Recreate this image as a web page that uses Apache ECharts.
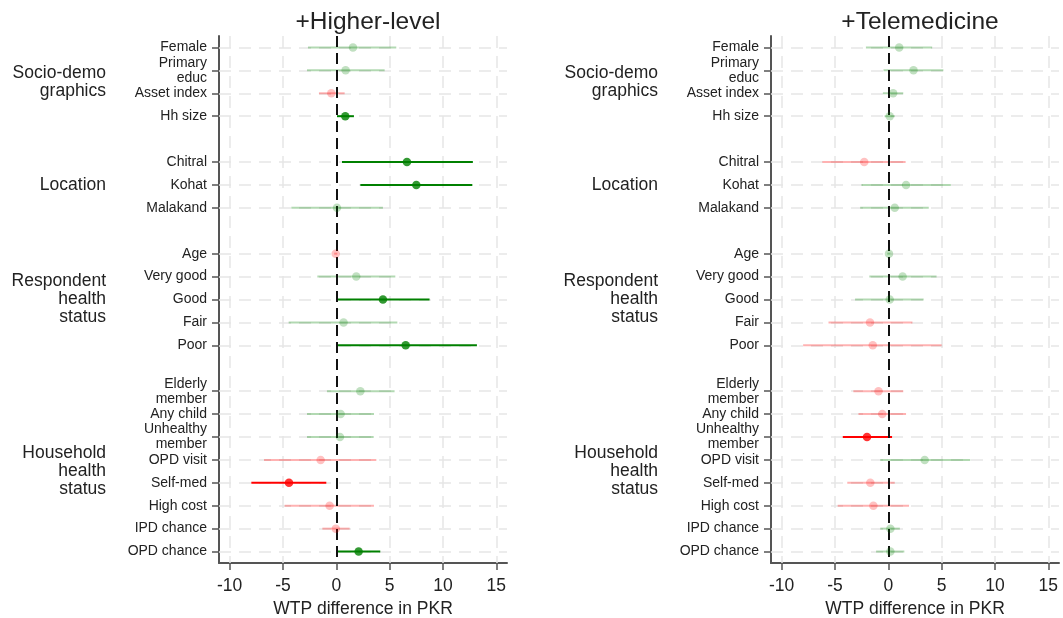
<!DOCTYPE html>
<html>
<head>
<meta charset="utf-8">
<script src="https://cdn.jsdelivr.net/npm/echarts@6/dist/echarts.min.js"></script>
<style>
html,body{margin:0;padding:0;background:#fff;}
#chart{width:1063px;height:618px;}
</style>
</head>
<body>
<div id="chart"></div>
<script>
// ---- data ----
const rows = ['Female','Primary\neduc','Asset index','Hh size','',
  'Chitral','Kohat','Malakand','',
  'Age','Very good','Good','Fair','Poor','',
  'Elderly\nmember','Any child','Unhealthy\nmember','OPD visit','Self-med','High cost','IPD chance','OPD chance'];
const groupNames = ['Socio-demo\ngraphics','Location','Respondent\nhealth\nstatus','Household\nhealth\nstatus'];
const groupSpans = [[0,3],[5,7],[9,13],[15,22]];
const xTicks = [-10,-5,0,5,10,15];
const panelTitles = ['+Higher-level','+Telemedicine'];
const xTitle = 'WTP difference in PKR';

// +Higher-level
const hlEst = [1.56,0.87,-0.47,0.84,null,6.62,7.5,0.06,null,-0.06,1.87,4.37,0.68,6.5,null,2.25,0.4,0.34,-1.47,-4.44,-0.63,-0.05,2.09];
const hlLo  = [-2.66,-2.75,-1.63,0.06,null,0.53,2.25,-4.22,null,-0.2,-1.78,0.06,-4.47,0.0,null,-0.88,-2.75,-2.75,-6.78,-7.97,-4.85,-1.31,0.06];
const hlHi  = [5.62,4.53,0.78,1.65,null,12.8,12.75,4.37,null,0.1,5.53,8.74,5.72,13.18,null,5.46,3.53,3.5,3.75,-0.94,3.53,1.25,4.12];
const hlSig = [0,0,0,1,null,1,1,0,null,0,0,1,0,1,null,0,0,0,0,1,0,0,1];

// +Telemedicine
const tmEst = [1.02,2.36,0.45,0.13,null,-2.26,1.66,0.6,null,0.06,1.34,0.13,-1.72,-1.46,null,-0.92,-0.57,-2.0,3.41,-1.69,-1.4,0.19,0.19];
const tmLo  = [-2.1,-0.45,-0.51,-0.35,null,-6.18,-2.52,-2.64,null,-0.1,-1.78,-3.12,-5.61,-7.99,null,-3.28,-2.8,-4.27,-0.76,-3.85,-4.75,-0.76,-1.15];
const tmHi  = [4.11,5.16,1.4,0.6,null,1.62,5.86,3.79,null,0.2,4.52,3.31,2.26,5.0,null,1.4,1.66,0.35,7.68,0.6,1.94,1.08,1.5];
const tmSig = [0,0,0,0,null,0,0,0,null,0,0,0,0,0,null,0,0,1,0,0,0,0,0];

// ---- styling ----
const FONT = "'Liberation Sans', Arial, sans-serif";
const TXT = '#222';
const AX = '#555';
const GRIDC = '#e6e6e6';
const keys = rows.map((r, i) => 'k' + i);

function colorFor(est, sig) {
  if (est >= 0) return sig ? '#008000' : 'rgba(0,128,0,0.3)';
  return sig ? '#ff0000' : 'rgba(255,0,0,0.3)';
}

const panels = [
  {est: hlEst, lo: hlLo, hi: hlHi, sig: hlSig, left: 219},
  {est: tmEst, lo: tmLo, hi: tmHi, sig: tmSig, left: 771}
];
const PW = 288, PT = 36, PH = 527;

const option = {
  animation: false,
  textStyle: {fontFamily: FONT},
  title: panels.map((p, i) => ({
    text: panelTitles[i],
    left: p.left + PW / 2,
    top: 5,
    textAlign: 'center',
    textStyle: {fontSize: 24.5, fontWeight: 'normal', color: TXT, fontFamily: FONT}
  })),
  grid: panels.map(p => ({left: p.left, top: PT, width: PW, height: PH,
    containLabel: false, outerBoundsMode: 'none'})),
  xAxis: panels.map((p, i) => ({
    gridIndex: i, type: 'value', min: -11, max: 16,
    axisLine: {show: true, lineStyle: {color: AX, width: 2}},
    axisTick: {show: true, customValues: xTicks, length: 7, lineStyle: {color: AX, width: 1.5}},
    axisLabel: {customValues: xTicks, fontSize: 17.5, color: TXT, margin: 14, fontFamily: FONT},
    splitLine: {show: false},
    name: xTitle, nameLocation: 'middle', nameGap: 34,
    nameTextStyle: {fontSize: 17.5, color: TXT, fontFamily: FONT}
  })),
  yAxis: panels.map((p, i) => ({
    gridIndex: i, type: 'category', data: keys, inverse: true, boundaryGap: true,
    axisLine: {show: true, onZero: false, lineStyle: {color: AX, width: 2}},
    axisTick: {show: true, alignWithLabel: true, length: 7,
      interval: (idx) => rows[idx] !== '', lineStyle: {color: AX, width: 1.5}},
    axisLabel: {interval: 0, formatter: (v, idx) => rows[idx], fontSize: 14, lineHeight: 15,
      color: TXT, margin: 12, fontFamily: FONT, align: 'right', padding: [3, 0, 0, 0]},
    splitLine: {show: false}
  })),
  series: []
};

panels.forEach((p, i) => {
  const ciData = [], ptData = [];
  rows.forEach((r, k) => {
    if (p.est[k] === null) return;
    const c = colorFor(p.est[k], p.sig[k]);
    ciData.push({value: [p.est[k], k, p.lo[k], p.hi[k]], itemStyle: {color: c}});
    ptData.push({value: [p.est[k], k], itemStyle: {color: c}});
  });
  // gridlines
  option.series.push({
    type: 'scatter', xAxisIndex: i, yAxisIndex: i, data: [], z: 1, silent: true,
    markLine: {
      z: 1, silent: true, symbol: 'none', label: {show: false}, animation: false,
      lineStyle: {color: GRIDC, width: 1.5, type: [12, 8]},
      emphasis: {disabled: true},
      data: xTicks.filter(v => v !== 0).map(v => ({xAxis: v}))
        .concat(rows.map((r, k) => r ? {yAxis: keys[k]} : null).filter(Boolean))
    }
  });
  // confidence intervals
  option.series.push({
    type: 'custom', xAxisIndex: i, yAxisIndex: i, z: 2, silent: true,
    encode: {x: 0, y: 1},
    data: ciData,
    renderItem: (params, api) => {
      const y = api.value(1);
      const a = api.coord([api.value(2), y]);
      const b = api.coord([api.value(3), y]);
      return {type: 'line', shape: {x1: a[0], y1: a[1], x2: b[0], y2: b[1]},
        style: {stroke: api.visual('color'), lineWidth: 2}};
    }
  });
  // zero line
  option.series.push({
    type: 'scatter', xAxisIndex: i, yAxisIndex: i, data: [], z: 3, silent: true,
    markLine: {
      z: 3, silent: true, symbol: 'none', label: {show: false}, animation: false,
      lineStyle: {color: '#111', width: 2, type: [11, 6]},
      emphasis: {disabled: true},
      data: [{xAxis: 0}]
    }
  });
  // points
  option.series.push({
    type: 'scatter', xAxisIndex: i, yAxisIndex: i, z: 6, silent: true,
    symbol: 'circle', symbolSize: 8.5, data: ptData
  });
});

const chart = echarts.init(document.getElementById('chart'), null, {renderer: 'canvas'});
chart.setOption(option);

// group labels
const g = [];
panels.forEach((p, i) => {
  groupNames.forEach((name, j) => {
    const y0 = chart.convertToPixel({yAxisIndex: i}, keys[groupSpans[j][0]]);
    const y1 = chart.convertToPixel({yAxisIndex: i}, keys[groupSpans[j][1]]);
    g.push({
      type: 'text', x: p.left - 113, y: (y0 + y1) / 2,
      style: {text: name, fontSize: 17.5, lineHeight: 18, fill: TXT, fontFamily: FONT,
        align: 'right', verticalAlign: 'middle'}
    });
  });
});
chart.setOption({graphic: g});
</script>
</body>
</html>
